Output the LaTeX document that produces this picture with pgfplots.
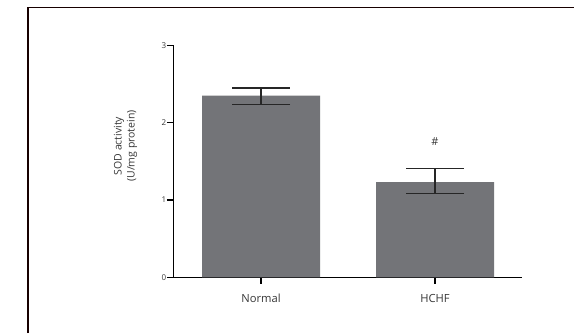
\documentclass[border=0pt]{standalone}
\usepackage{fontspec}
\setmainfont{Open Sans}
\usepackage{pgfplots}
\pgfplotsset{compat=1.18}
\definecolor{barfill}{RGB}{115,116,120}
\definecolor{txt}{RGB}{55,55,55}
\begin{document}
\begin{tikzpicture}[x=1pt,y=1pt]
\useasboundingbox (0,0) rectangle (574,333);
\draw[line width=1.3pt, black!85!red!60!black] (28,0) -- (28,325.3) -- (574,325.3);
\begin{axis}[
  at={(173.3pt,55.7pt)}, anchor=south west,
  scale only axis, width=348.4pt, height=232pt,
  xmin=-0.504, xmax=1.498, ymin=0, ymax=3,
  axis x line*=bottom, axis y line*=left,
  axis line style={line width=1.2pt, black},
  xtick={0,1}, xticklabels={Normal,HCHF},
  ytick={0,1,2,3},
  tick align=outside, major tick length=6.5pt,
  tick style={line width=1.2pt, black},
  xticklabel style={font=\fontsize{11.2}{13}\selectfont, text=txt, yshift=-7pt},
  yticklabel style={font=\fontsize{8}{9}\selectfont, text=txt, xshift=3pt},
  /pgf/number format/assume math mode=true,
  ylabel={SOD activity\\(U/mg protein)},
  ylabel style={at={(axis description cs:-0.137,0.566)}, anchor=center, align=center,
    font=\fontsize{10.5}{13}\selectfont, text=txt},
  clip=false,
]
\addplot[ybar, bar width=118pt, fill=barfill, draw=none,
  error bars/.cd, y dir=both, y explicit,
  error mark=-, error mark options={line width=1.3pt, mark size=29pt, black!85, rotate=90},
  error bar style={line width=1.3pt, black!85}]
coordinates {
 (0,2.35) += (0,0.098) -= (0,0.117)
 (1,1.232) += (0,0.172) -= (0,0.151)
};
\node[font=\fontsize{11}{13}\selectfont, text=txt] at (axis cs:1,1.75) {\#};
\end{axis}
\end{tikzpicture}
\end{document}
